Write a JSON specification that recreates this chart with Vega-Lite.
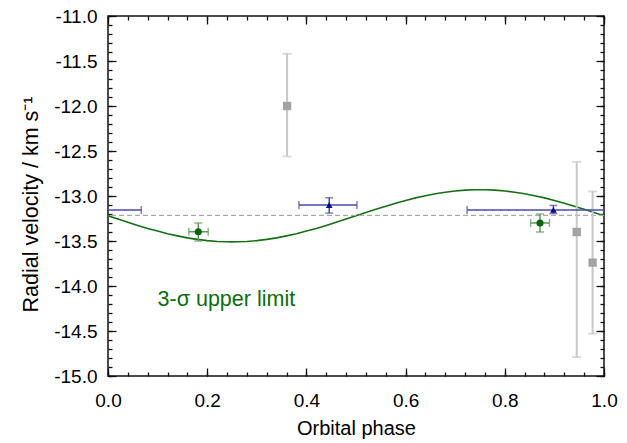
{
  "$schema": "https://vega.github.io/schema/vega-lite/v6.json",
  "width": 496,
  "height": 360,
  "autosize": {"type": "none"},
  "padding": {"left": 108, "top": 16, "right": 23, "bottom": 67},
  "background": "white",
  "config": {
    "view": {"stroke": "#111", "strokeWidth": 1.5},
    "font": "Liberation Sans",
    "axis": {
      "domain": false, "grid": false, "ticks": true, "tickColor": "#111", "tickWidth": 1.3,
      "labelFont": "Liberation Sans", "labelFontSize": 19, "labelColor": "#000",
      "titleFont": "Liberation Sans", "titleFontSize": 20, "titleFontWeight": "normal", "titleColor": "#000",
      "labelFlush": false, "labelOverlap": false, "labelBound": false
    }
  },
  "datasets": {
    "curve": [
      {"phase": 0.00, "v": -13.220}, {"phase": 0.02, "v": -13.256}, {"phase": 0.04, "v": -13.292},
      {"phase": 0.06, "v": -13.327}, {"phase": 0.08, "v": -13.360}, {"phase": 0.10, "v": -13.390},
      {"phase": 0.12, "v": -13.419}, {"phase": 0.14, "v": -13.443}, {"phase": 0.16, "v": -13.465},
      {"phase": 0.18, "v": -13.482}, {"phase": 0.20, "v": -13.496}, {"phase": 0.22, "v": -13.505},
      {"phase": 0.24, "v": -13.509}, {"phase": 0.25, "v": -13.510}, {"phase": 0.26, "v": -13.509},
      {"phase": 0.28, "v": -13.505}, {"phase": 0.30, "v": -13.496}, {"phase": 0.32, "v": -13.482},
      {"phase": 0.34, "v": -13.465}, {"phase": 0.36, "v": -13.443}, {"phase": 0.38, "v": -13.419},
      {"phase": 0.40, "v": -13.390}, {"phase": 0.42, "v": -13.360}, {"phase": 0.44, "v": -13.327},
      {"phase": 0.46, "v": -13.292}, {"phase": 0.48, "v": -13.256}, {"phase": 0.50, "v": -13.220},
      {"phase": 0.52, "v": -13.184}, {"phase": 0.54, "v": -13.148}, {"phase": 0.56, "v": -13.113},
      {"phase": 0.58, "v": -13.080}, {"phase": 0.60, "v": -13.050}, {"phase": 0.62, "v": -13.021},
      {"phase": 0.64, "v": -12.997}, {"phase": 0.66, "v": -12.975}, {"phase": 0.68, "v": -12.958},
      {"phase": 0.70, "v": -12.944}, {"phase": 0.72, "v": -12.935}, {"phase": 0.74, "v": -12.931},
      {"phase": 0.75, "v": -12.930}, {"phase": 0.76, "v": -12.931}, {"phase": 0.78, "v": -12.935},
      {"phase": 0.80, "v": -12.944}, {"phase": 0.82, "v": -12.958}, {"phase": 0.84, "v": -12.975},
      {"phase": 0.86, "v": -12.997}, {"phase": 0.88, "v": -13.021}, {"phase": 0.90, "v": -13.050},
      {"phase": 0.92, "v": -13.080}, {"phase": 0.94, "v": -13.113}, {"phase": 0.96, "v": -13.148},
      {"phase": 0.98, "v": -13.184}, {"phase": 1.00, "v": -13.220}
    ],
    "gray": [
      {"phase": 0.361, "v": -12.00, "lo": -12.56, "hi": -11.42},
      {"phase": 0.945, "v": -13.40, "lo": -14.79, "hi": -12.62},
      {"phase": 0.977, "v": -13.74, "lo": -14.53, "hi": -12.95}
    ],
    "green": [
      {"phase": 0.182, "v": -13.397, "xlo": 0.163, "xhi": 0.202, "ylo": -13.50, "yhi": -13.30},
      {"phase": 0.871, "v": -13.300, "xlo": 0.852, "xhi": 0.890, "ylo": -13.40, "yhi": -13.20}
    ],
    "blue": [
      {"phase": 0.446, "v": -13.100, "ylo": -13.19, "yhi": -13.02},
      {"phase": 0.898, "v": -13.155, "ylo": -13.195, "yhi": -13.105}
    ],
    "bluex": [
      {"v": -13.100, "xlo": 0.385, "xhi": 0.502},
      {"v": -13.155, "xlo": 0.724, "xhi": 1.067},
      {"v": -13.155, "xlo": -0.276, "xhi": 0.067}
    ],
    "note": [
      {"phase": 0.1, "v": -14.16, "label": "3-σ upper limit"}
    ]
  },
  "layer": [
    {
      "data": {"name": "curve"},
      "mark": {"type": "line", "color": "#157015", "strokeWidth": 1.6, "clip": true},
      "encoding": {
        "x": {"field": "phase", "type": "quantitative", "scale": {"domain": [0, 1], "nice": false, "zero": false},
          "axis": {"orient": "bottom", "values": [0, 0.2, 0.4, 0.6, 0.8, 1.0], "offset": -8, "tickSize": 8, "labelPadding": 15,
            "labelExpr": "format(datum.value, '.1f')", "title": "Orbital phase", "titlePadding": 8}},
        "y": {"field": "v", "type": "quantitative", "scale": {"domain": [-15, -11], "nice": false, "zero": false},
          "axis": {"orient": "left", "values": [-15, -14.5, -14, -13.5, -13, -12.5, -12, -11.5, -11], "offset": -8, "tickSize": 8, "labelPadding": 11,
            "labelExpr": "(datum.value < 0 ? '-' : '') + format(abs(datum.value), '.1f')", "title": "Radial velocity / km s⁻¹", "titlePadding": 11, "titleFontSize": 21.5, "titleY": 188}}
      }
    },
    {
      "data": {"name": "curve"},
      "mark": {"type": "point", "opacity": 0},
      "encoding": {
        "x": {"field": "phase", "type": "quantitative",
          "axis": {"orient": "bottom", "values": [0, 0.04, 0.08, 0.12, 0.16, 0.2, 0.24, 0.28, 0.32, 0.36, 0.4, 0.44, 0.48, 0.52, 0.56, 0.6, 0.64, 0.68, 0.72, 0.76, 0.8, 0.84, 0.88, 0.92, 0.96, 1.0], "offset": -4, "tickSize": 4, "labels": false, "title": null}},
        "y": {"field": "v", "type": "quantitative",
          "axis": {"orient": "left", "values": [-15, -14.9, -14.8, -14.7, -14.6, -14.5, -14.4, -14.3, -14.2, -14.1, -14, -13.9, -13.8, -13.7, -13.6, -13.5, -13.4, -13.3, -13.2, -13.1, -13, -12.9, -12.8, -12.7, -12.6, -12.5, -12.4, -12.3, -12.2, -12.1, -12, -11.9, -11.8, -11.7, -11.6, -11.5, -11.4, -11.3, -11.2, -11.1, -11], "offset": -4, "tickSize": 4, "labels": false, "title": null}}
      }
    },
    {
      "data": {"name": "curve"},
      "mark": {"type": "point", "opacity": 0},
      "encoding": {
        "x": {"field": "phase", "type": "quantitative",
          "axis": {"orient": "top", "values": [0, 0.2, 0.4, 0.6, 0.8, 1.0], "offset": -8, "tickSize": 8, "labels": false, "title": null}},
        "y": {"field": "v", "type": "quantitative",
          "axis": {"orient": "right", "values": [-15, -14.5, -14, -13.5, -13, -12.5, -12, -11.5, -11], "offset": -8, "tickSize": 8, "labels": false, "title": null}}
      }
    },
    {
      "data": {"name": "curve"},
      "mark": {"type": "point", "opacity": 0},
      "encoding": {
        "x": {"field": "phase", "type": "quantitative",
          "axis": {"orient": "top", "values": [0, 0.04, 0.08, 0.12, 0.16, 0.2, 0.24, 0.28, 0.32, 0.36, 0.4, 0.44, 0.48, 0.52, 0.56, 0.6, 0.64, 0.68, 0.72, 0.76, 0.8, 0.84, 0.88, 0.92, 0.96, 1.0], "offset": -4, "tickSize": 4, "labels": false, "title": null}},
        "y": {"field": "v", "type": "quantitative",
          "axis": {"orient": "right", "values": [-15, -14.9, -14.8, -14.7, -14.6, -14.5, -14.4, -14.3, -14.2, -14.1, -14, -13.9, -13.8, -13.7, -13.6, -13.5, -13.4, -13.3, -13.2, -13.1, -13, -12.9, -12.8, -12.7, -12.6, -12.5, -12.4, -12.3, -12.2, -12.1, -12, -11.9, -11.8, -11.7, -11.6, -11.5, -11.4, -11.3, -11.2, -11.1, -11], "offset": -4, "tickSize": 4, "labels": false, "title": null}}
      }
    },
    {
      "data": {"values": [{"v": -13.215}]},
      "mark": {"type": "rule", "color": "#aaaaaa", "strokeWidth": 1.3, "strokeDash": [5, 3]},
      "encoding": {"y": {"field": "v", "type": "quantitative", "axis": null}}
    },
    {
      "data": {"name": "gray"},
      "mark": {"type": "rule", "color": "#c8c8c8", "strokeWidth": 2, "clip": true},
      "encoding": {
        "x": {"field": "phase", "type": "quantitative", "axis": null},
        "y": {"field": "lo", "type": "quantitative", "axis": null},
        "y2": {"field": "hi"}
      }
    },
    {
      "data": {"name": "gray"},
      "mark": {"type": "tick", "orient": "horizontal", "color": "#c8c8c8", "size": 9, "thickness": 1.8},
      "encoding": {
        "x": {"field": "phase", "type": "quantitative", "axis": null},
        "y": {"field": "lo", "type": "quantitative", "axis": null}
      }
    },
    {
      "data": {"name": "gray"},
      "mark": {"type": "tick", "orient": "horizontal", "color": "#c8c8c8", "size": 9, "thickness": 1.8},
      "encoding": {
        "x": {"field": "phase", "type": "quantitative", "axis": null},
        "y": {"field": "hi", "type": "quantitative", "axis": null}
      }
    },
    {
      "data": {"name": "gray"},
      "mark": {"type": "square", "color": "#a3a3a3", "opacity": 1, "filled": true, "size": 70},
      "encoding": {
        "x": {"field": "phase", "type": "quantitative", "axis": null},
        "y": {"field": "v", "type": "quantitative", "axis": null}
      }
    },
    {
      "data": {"name": "bluex"},
      "mark": {"type": "rule", "color": "#4a4aaa", "strokeWidth": 1.5, "clip": true},
      "encoding": {
        "x": {"field": "xlo", "type": "quantitative", "axis": null},
        "x2": {"field": "xhi"},
        "y": {"field": "v", "type": "quantitative", "axis": null}
      }
    },
    {
      "data": {"name": "bluex"},
      "mark": {"type": "tick", "orient": "vertical", "color": "#4a4aaa", "size": 8, "thickness": 1.5, "clip": true},
      "encoding": {
        "x": {"field": "xlo", "type": "quantitative", "axis": null},
        "y": {"field": "v", "type": "quantitative", "axis": null}
      }
    },
    {
      "data": {"name": "bluex"},
      "mark": {"type": "tick", "orient": "vertical", "color": "#4a4aaa", "size": 8, "thickness": 1.5, "clip": true},
      "encoding": {
        "x": {"field": "xhi", "type": "quantitative", "axis": null},
        "y": {"field": "v", "type": "quantitative", "axis": null}
      }
    },
    {
      "data": {"name": "blue"},
      "mark": {"type": "rule", "color": "#4a4aaa", "strokeWidth": 1.5},
      "encoding": {
        "x": {"field": "phase", "type": "quantitative", "axis": null},
        "y": {"field": "ylo", "type": "quantitative", "axis": null},
        "y2": {"field": "yhi"}
      }
    },
    {
      "data": {"name": "blue"},
      "mark": {"type": "tick", "orient": "horizontal", "color": "#4a4aaa", "size": 8, "thickness": 1.5},
      "encoding": {
        "x": {"field": "phase", "type": "quantitative", "axis": null},
        "y": {"field": "ylo", "type": "quantitative", "axis": null}
      }
    },
    {
      "data": {"name": "blue"},
      "mark": {"type": "tick", "orient": "horizontal", "color": "#4a4aaa", "size": 8, "thickness": 1.5},
      "encoding": {
        "x": {"field": "phase", "type": "quantitative", "axis": null},
        "y": {"field": "yhi", "type": "quantitative", "axis": null}
      }
    },
    {
      "data": {"name": "blue"},
      "mark": {"type": "point", "shape": "triangle-up", "filled": true, "color": "#0a0a8c", "opacity": 1, "size": 45},
      "encoding": {
        "x": {"field": "phase", "type": "quantitative", "axis": null},
        "y": {"field": "v", "type": "quantitative", "axis": null}
      }
    },
    {
      "data": {"name": "green"},
      "mark": {"type": "rule", "color": "#5a9a5a", "strokeWidth": 1.5},
      "encoding": {
        "x": {"field": "phase", "type": "quantitative", "axis": null},
        "y": {"field": "ylo", "type": "quantitative", "axis": null},
        "y2": {"field": "yhi"}
      }
    },
    {
      "data": {"name": "green"},
      "mark": {"type": "rule", "color": "#5a9a5a", "strokeWidth": 1.5},
      "encoding": {
        "x": {"field": "xlo", "type": "quantitative", "axis": null},
        "x2": {"field": "xhi"},
        "y": {"field": "v", "type": "quantitative", "axis": null}
      }
    },
    {
      "data": {"name": "green"},
      "mark": {"type": "tick", "orient": "horizontal", "color": "#5a9a5a", "size": 8, "thickness": 1.5},
      "encoding": {
        "x": {"field": "phase", "type": "quantitative", "axis": null},
        "y": {"field": "ylo", "type": "quantitative", "axis": null}
      }
    },
    {
      "data": {"name": "green"},
      "mark": {"type": "tick", "orient": "horizontal", "color": "#5a9a5a", "size": 8, "thickness": 1.5},
      "encoding": {
        "x": {"field": "phase", "type": "quantitative", "axis": null},
        "y": {"field": "yhi", "type": "quantitative", "axis": null}
      }
    },
    {
      "data": {"name": "green"},
      "mark": {"type": "tick", "orient": "vertical", "color": "#5a9a5a", "size": 8, "thickness": 1.5},
      "encoding": {
        "x": {"field": "xlo", "type": "quantitative", "axis": null},
        "y": {"field": "v", "type": "quantitative", "axis": null}
      }
    },
    {
      "data": {"name": "green"},
      "mark": {"type": "tick", "orient": "vertical", "color": "#5a9a5a", "size": 8, "thickness": 1.5},
      "encoding": {
        "x": {"field": "xhi", "type": "quantitative", "axis": null},
        "y": {"field": "v", "type": "quantitative", "axis": null}
      }
    },
    {
      "data": {"name": "green"},
      "mark": {"type": "circle", "color": "#0a640a", "opacity": 1, "size": 50},
      "encoding": {
        "x": {"field": "phase", "type": "quantitative", "axis": null},
        "y": {"field": "v", "type": "quantitative", "axis": null}
      }
    },
    {
      "data": {"name": "note"},
      "mark": {"type": "text", "align": "left", "baseline": "middle", "color": "#0a6e0a", "font": "Liberation Sans", "fontSize": 21.5},
      "encoding": {
        "x": {"field": "phase", "type": "quantitative", "axis": null},
        "y": {"field": "v", "type": "quantitative", "axis": null},
        "text": {"field": "label"}
      }
    }
  ],
  "resolve": {"axis": {"x": "independent", "y": "independent"}}
}
